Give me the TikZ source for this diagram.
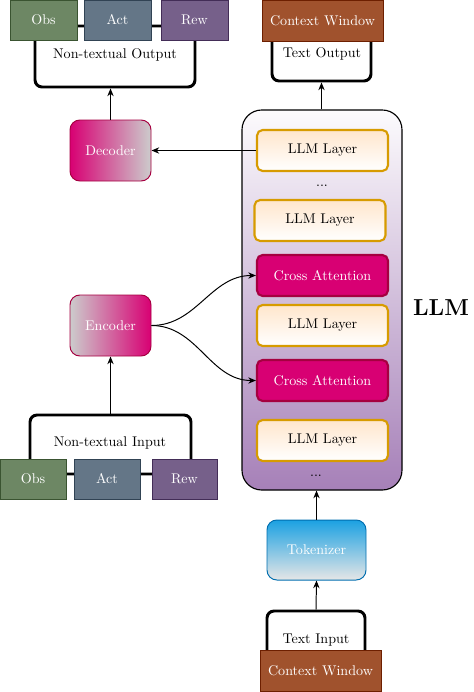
\documentclass[tikz,border=0pt]{standalone}
\usetikzlibrary{arrows.meta}
\definecolor{obsfill}{HTML}{6D8764}\definecolor{obsdraw}{HTML}{3A5431}
\definecolor{actfill}{HTML}{647687}\definecolor{actdraw}{HTML}{314354}
\definecolor{rewfill}{HTML}{76608A}\definecolor{rewdraw}{HTML}{432D57}
\definecolor{cwfill}{HTML}{A0522D}\definecolor{cwdraw}{HTML}{6D1F00}
\definecolor{mag}{HTML}{D80073}\definecolor{magdraw}{HTML}{A50040}
\definecolor{grayc}{HTML}{CCCCCC}
\definecolor{layertop}{HTML}{FFE6CC}\definecolor{layerdraw}{HTML}{D79B00}
\definecolor{toktop}{HTML}{1BA1E2}\definecolor{tokbot}{HTML}{E6E6E6}\definecolor{tokdraw}{HTML}{006EAF}
\definecolor{llmtop}{HTML}{FCFBFD}\definecolor{llmbot}{HTML}{A680B8}
\newcommand\pxu{0.71pt}
\tikzset{
  box/.style={draw, inner sep=0pt, line width=0.7pt, text=white},
  obsbox/.style={box, fill=obsfill, draw=obsdraw, minimum width=67*\pxu, minimum height=40*\pxu},
  actbox/.style={box, fill=actfill, draw=actdraw, minimum width=67*\pxu, minimum height=40*\pxu},
  rewbox/.style={box, fill=rewfill, draw=rewdraw, minimum width=67*\pxu, minimum height=40*\pxu},
  cwbox/.style={box, fill=cwfill, draw=cwdraw, minimum width=121*\pxu, minimum height=41*\pxu},
  grp/.style={draw=black, line width=2.1pt, rounded corners=5pt, fill=white, inner sep=0pt},
  layer/.style={draw=layerdraw, line width=1.5pt, rounded corners=4pt, top color=layertop, bottom color=white, minimum width=131*\pxu, minimum height=41*\pxu, inner sep=0pt},
  cross/.style={draw=magdraw, fill=mag, text=white, line width=1.5pt, rounded corners=4pt, minimum width=131*\pxu, minimum height=41*\pxu, inner sep=0pt},
  coder/.style={draw=magdraw, line width=0.7pt, rounded corners=7pt, text=white, minimum width=81*\pxu, minimum height=61*\pxu, inner sep=0pt},
  arr/.style={-{Stealth[length=5.5pt,width=4.5pt,inset=1.8pt]}, line width=0.7pt},
  lbl/.style={inner sep=0pt}
}
\begin{document}
\begin{tikzpicture}[x=0.71pt,y=-0.71pt]
\useasboundingbox (0,0) rectangle (473,692);
% top-left output
\node[grp, minimum width=160*\pxu, minimum height=61*\pxu] (nto) at (115,56.5) {};
\node[lbl] (ntotext) at (115,55) {Non-textual Output};
\node[obsbox] (obsO) at (43.5,20) {Obs};
\node[actbox] (actO) at (117.5,20) {Act};
\node[rewbox] (rewO) at (194.5,20) {Rew};
% text output
\node[grp, minimum width=99*\pxu, minimum height=61*\pxu] (tout) at (321.5,50.5) {};
\node[lbl] (touttext) at (322,54) {Text Output};
\node[cwbox] (cwO) at (322.5,20.5) {Context Window};
% LLM container
\node[draw=black, line width=0.8pt, rounded corners=14pt, top color=llmtop, bottom color=llmbot, minimum width=160*\pxu, minimum height=380*\pxu, inner sep=0pt] (llm) at (322,300) {};
\node[layer] (l1) at (322.5,150.5) {LLM Layer};
\node[lbl] (d1) at (322,186) {...};
\node[layer] (l2) at (320,220.5) {LLM Layer};
\node[cross] (ca1) at (322.5,275.5) {Cross Attention};
\node[layer] (l3) at (322.5,325.5) {LLM Layer};
\node[cross] (ca2) at (322.5,380.5) {Cross Attention};
\node[layer] (l4) at (322.5,440.5) {LLM Layer};
\node[lbl] (d2) at (316,476) {...};
\node[lbl, font=\fontsize{16.4}{18}\selectfont\bfseries] (llmlabel) at (441,308) {LLM};
% decoder / encoder
\node[coder, left color=mag, right color=grayc] (dec) at (110.5,150.5) {Decoder};
\node[coder, left color=grayc, right color=mag] (enc) at (110.5,325.5) {Encoder};
% non-textual input
\node[grp, minimum width=161*\pxu, minimum height=59*\pxu] (nti) at (110.5,444.5) {};
\node[lbl] (ntitext) at (110,443) {Non-textual Input};
\node[obsbox, minimum width=66*\pxu] (obsI) at (33,479) {Obs};
\node[actbox, minimum width=66*\pxu] (actI) at (107,479) {Act};
\node[rewbox, minimum width=65*\pxu] (rewI) at (184.5,479) {Rew};
% tokenizer and text input
\node[draw=tokdraw, line width=0.7pt, rounded corners=7pt, text=white, top color=toktop, bottom color=tokbot, minimum width=99*\pxu, minimum height=60*\pxu, inner sep=0pt] (tok) at (316.5,550) {Tokenizer};
\node[grp, minimum width=98*\pxu, minimum height=59*\pxu] (tin) at (316,640.5) {};
\node[lbl] (tintext) at (316,640) {Text Input};
\node[cwbox] (cwI) at (320.5,670.5) {Context Window};
% connectors
\draw[arr] (dec.north) -- (dec.north |- nto.south);
\draw[arr] (l1.west) -- (dec.east);
\draw[arr] (tout.south |- llm.north) -- (tout.south);
\draw[arr] (enc.east) to[out=0,in=180] (ca1.west);
\draw[arr] (enc.east) to[out=0,in=180] (ca2.west);
\draw[arr] (nti.north) -- (enc.south);
\draw[arr] (tok.north) -- (tok.north |- llm.south);
\draw[arr] (tin.north) -- (tok.south);
\end{tikzpicture}
\end{document}
